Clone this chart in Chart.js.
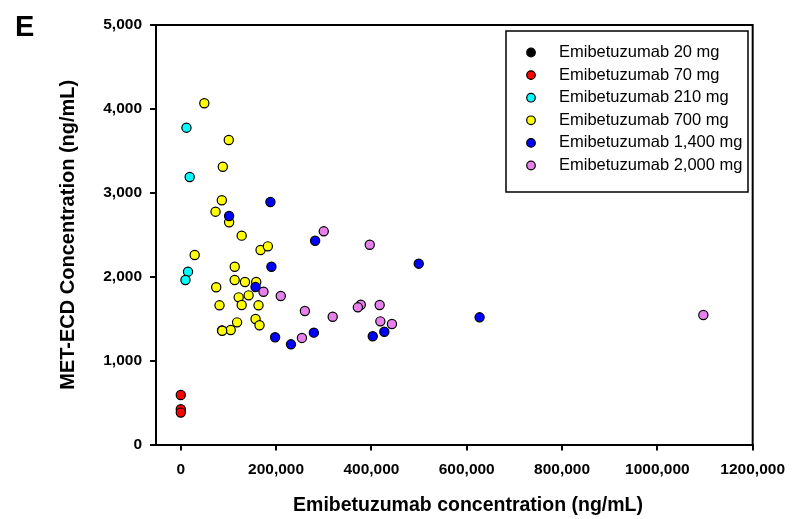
<!DOCTYPE html>
<html>
<head>
<meta charset="utf-8">
<script src="https://cdn.jsdelivr.net/npm/chart.js@4.4.0/dist/chart.umd.min.js"></script>
<style>
  html, body { margin: 0; padding: 0; background: #fff; }
</style>
</head>
<body>
<canvas id="chart" width="795" height="519"></canvas>
<script>
// Series labels and colours
const doseLabels = [
    'Emibetuzumab 20 mg',
    'Emibetuzumab 70 mg',
    'Emibetuzumab 210 mg',
    'Emibetuzumab 700 mg',
    'Emibetuzumab 1,400 mg',
    'Emibetuzumab 2,000 mg'
];
const doseColors = ['#000000', '#ff0000', '#00ffff', '#ffff00', '#0000ff', '#e680ea'];

// Points: [emibetuzumab ng/mL, MET-ECD ng/mL]
const dose20 = [[86500, 1360]];
const dose70 = [[0, 590], [0, 420], [0, 380]];
const dose210 = [[11900, 3776], [18700, 3188], [15200, 2060], [9800, 1961]];
const dose700 = [
    [49400, 4067], [100700, 3629], [88200, 3311], [86100, 2911], [72900, 2775],
    [101400, 2649], [127800, 2489], [167400, 2318], [182700, 2362], [29200, 2259],
    [113200, 2119], [74300, 1874], [113100, 1961], [134700, 1937], [158300, 1937],
    [121500, 1754], [142400, 1778], [127800, 1663], [81250, 1659], [163100, 1659],
    [118100, 1456], [156900, 1496], [165200, 1421], [104800, 1365], [86900, 1356]
];
const dose1400 = [
    [188100, 2890], [101400, 2723], [190200, 2119], [156900, 1877], [197900, 1278],
    [231200, 1194], [281900, 2429], [499300, 2155], [279200, 1333], [402800, 1290],
    [427100, 1344], [627000, 1516]
];
const dose2000 = [
    [173500, 1821], [209800, 1770], [260400, 1591], [254200, 1270], [300000, 2541],
    [396500, 2381], [318750, 1523], [377700, 1666], [371500, 1635], [417300, 1663],
    [418750, 1468], [443100, 1436], [1096500, 1543]
];
const allSeries = [dose20, dose70, dose210, dose700, dose1400, dose2000];

// Axis ticks
const xTickValues = [0, 200000, 400000, 600000, 800000, 1000000, 1200000];
const xTickLabels = ['0', '200,000', '400,000', '600,000', '800,000', '1000,000', '1200,000'];
const yTickValues = [0, 1000, 2000, 3000, 4000, 5000];
const yTickLabels = ['0', '1,000', '2,000', '3,000', '4,000', '5,000'];
const xTitle = 'Emibetuzumab concentration (ng/mL)';

const FONT = '"Liberation Sans", Arial, sans-serif';

const datasets = allSeries.map((pts, i) => ({
    label: doseLabels[i],
    data: pts.map(p => ({ x: p[0], y: p[1] })),
    backgroundColor: doseColors[i],
    borderColor: '#000',
    borderWidth: 1.2,
    pointRadius: 4.6,
    order: allSeries.length - i   // later doses drawn on top
}));

// Frame, panel letter, x title and boxed legend
const extras = {
    id: 'extras',
    afterDraw(chart) {
        const ctx = chart.ctx;
        const a = chart.chartArea;
        ctx.save();
        ctx.strokeStyle = '#000';
        ctx.lineWidth = 2;
        ctx.beginPath();
        ctx.moveTo(a.left, a.top);
        ctx.lineTo(a.right, a.top);
        ctx.lineTo(a.right, a.bottom);
        ctx.stroke();

        ctx.fillStyle = '#000';
        ctx.font = 'bold 29px ' + FONT;
        ctx.textAlign = 'left';
        ctx.textBaseline = 'middle';
        ctx.fillText('E', 15, 28);

        // x title sits a bit right of the plot centre in the original
        ctx.font = 'bold 19.5px ' + FONT;
        ctx.textAlign = 'center';
        ctx.fillText(xTitle, 468, 506);

        // legend
        ctx.textAlign = 'left';
        ctx.lineWidth = 1.5;
        ctx.strokeRect(506, 31, 242, 161);
        ctx.font = '16.5px ' + FONT;
        doseLabels.forEach((lab, i) => {
            const y = 52.5 + i * 22.6;
            ctx.beginPath();
            ctx.arc(531, y, 4.3, 0, Math.PI * 2);
            ctx.fillStyle = doseColors[i];
            ctx.fill();
            ctx.lineWidth = 1.2;
            ctx.strokeStyle = '#000';
            ctx.stroke();
            ctx.fillStyle = '#000';
            ctx.fillText(lab, 559, y);
        });
        ctx.restore();
    }
};

new Chart(document.getElementById('chart'), {
    type: 'scatter',
    data: { datasets: datasets },
    options: {
        responsive: false,
        animation: false,
        layout: { padding: { top: 25, right: 41, left: 0, bottom: 0 } },
        plugins: {
            legend: { display: false },
            tooltip: { enabled: false }
        },
        scales: {
            x: {
                type: 'linear',
                min: -52000,
                max: 1200000,
                afterFit: s => { s.height = 74.5; },
                afterBuildTicks: s => { s.ticks = xTickValues.map(v => ({ value: v })); },
                grid: { drawOnChartArea: false, tickLength: 6, color: '#000', lineWidth: 2 },
                border: { color: '#000', width: 2 },
                ticks: {
                    autoSkip: false,
                    maxRotation: 0,
                    padding: 10,
                    color: '#000',
                    font: { family: FONT, size: 15.5, weight: 'bold' },
                    callback: v => xTickLabels[xTickValues.indexOf(v)]
                }
            },
            y: {
                type: 'linear',
                min: 0,
                max: 5000,
                afterFit: s => { s.width = 156; },
                afterBuildTicks: s => { s.ticks = yTickValues.map(v => ({ value: v })); },
                grid: { drawOnChartArea: false, tickLength: 6, color: '#000', lineWidth: 2 },
                border: { color: '#000', width: 2 },
                ticks: {
                    padding: 8,
                    color: '#000',
                    font: { family: FONT, size: 15.5, weight: 'bold' },
                    callback: v => yTickLabels[yTickValues.indexOf(v)]
                },
                title: {
                    display: true,
                    text: 'MET-ECD Concentration (ng/mL)',
                    color: '#000',
                    font: { family: FONT, size: 20, weight: 'bold' },
                    padding: { top: 56, bottom: 0 }
                }
            }
        }
    },
    plugins: [extras]
});
</script>
</body>
</html>
